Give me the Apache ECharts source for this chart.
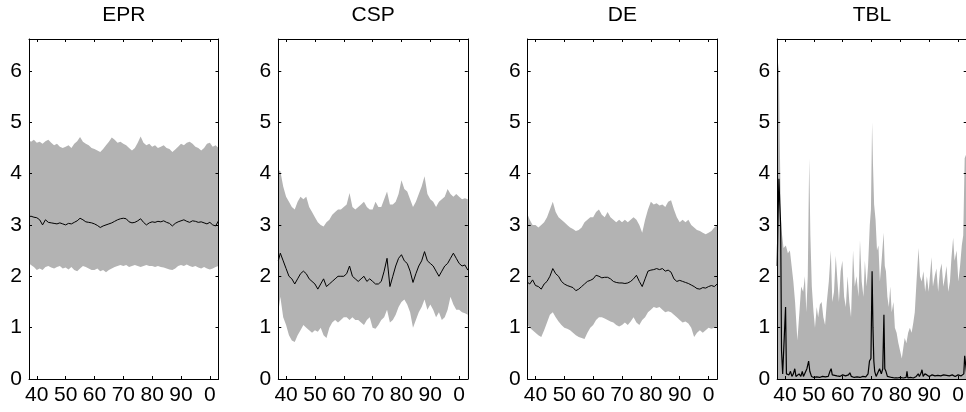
<!DOCTYPE html>
<html>
<head>
<meta charset="utf-8">
<script src="https://cdn.jsdelivr.net/npm/echarts@6/dist/echarts.min.js"></script>
<style>
  html, body { margin: 0; padding: 0; background: #fff; }
  #main { width: 966px; height: 412px; }
</style>
</head>
<body>
<div id="main"></div>
<script>
// sample dates (years) shared by EPR / CSP / DE
var years = [1937.3, 1938, 1939,
  1940, 1941, 1942, 1943, 1944, 1945, 1946, 1947, 1948, 1949,
  1950, 1951, 1952, 1953, 1954, 1955, 1956, 1957, 1958, 1959,
  1960, 1961, 1962, 1963, 1964, 1965, 1966, 1967, 1968, 1969,
  1970, 1971, 1972, 1973, 1974, 1975, 1976, 1977, 1978, 1979,
  1980, 1981, 1982, 1983, 1984, 1985, 1986, 1987, 1988, 1989,
  1990, 1991, 1992, 1993, 1994, 1995, 1996, 1997, 1998, 1999,
  2000, 2001, 2002, 2003]

var xTicks = [1940, 1950, 1960, 1970, 1980, 1990, 2000]
var yTicks = [0, 1, 2, 3, 4, 5, 6]

// EPR
var eprUpper = [4.65, 4.62, 4.66,
  4.60, 4.62, 4.58, 4.63, 4.66, 4.60, 4.55, 4.58, 4.52, 4.50,
  4.52, 4.55, 4.50, 4.58, 4.63, 4.71, 4.62, 4.58, 4.55, 4.50,
  4.48, 4.45, 4.42, 4.48, 4.55, 4.62, 4.70, 4.66, 4.60, 4.62,
  4.58, 4.55, 4.50, 4.45, 4.50, 4.60, 4.72, 4.60, 4.55, 4.58,
  4.52, 4.55, 4.50, 4.52, 4.55, 4.50, 4.48, 4.42, 4.47, 4.52,
  4.58, 4.55, 4.60, 4.62, 4.58, 4.52, 4.50, 4.45, 4.50, 4.58,
  4.60, 4.52, 4.55, 4.50]
var eprLower = [2.25, 2.22, 2.18,
  2.12, 2.15, 2.12, 2.18, 2.20, 2.17, 2.15, 2.18, 2.20, 2.15,
  2.17, 2.13, 2.18, 2.12, 2.10, 2.15, 2.20, 2.18, 2.15, 2.12,
  2.12, 2.15, 2.10, 2.12, 2.08, 2.12, 2.15, 2.18, 2.20, 2.22,
  2.20, 2.22, 2.18, 2.20, 2.22, 2.20, 2.18, 2.20, 2.22, 2.20,
  2.20, 2.18, 2.20, 2.18, 2.17, 2.15, 2.13, 2.12, 2.15, 2.20,
  2.22, 2.20, 2.23, 2.20, 2.18, 2.20, 2.17, 2.15, 2.18, 2.15,
  2.13, 2.15, 2.18, 2.20]
var eprMedian = [3.16, 3.17, 3.15,
  3.14, 3.10, 3.00, 3.10, 3.05, 3.04, 3.03, 3.02, 3.04, 3.02,
  3.00, 3.03, 3.02, 3.05, 3.08, 3.13, 3.10, 3.06, 3.05, 3.04,
  3.02, 2.99, 2.95, 2.98, 3.00, 3.02, 3.04, 3.07, 3.10, 3.12,
  3.13, 3.12, 3.06, 3.04, 3.05, 3.08, 3.12, 3.05, 3.00, 3.04,
  3.06, 3.05, 3.07, 3.06, 3.08, 3.05, 3.03, 2.98, 3.03, 3.06,
  3.08, 3.10, 3.07, 3.05, 3.08, 3.07, 3.05, 3.06, 3.04, 3.02,
  3.05, 3.00, 2.98, 3.08]

// CSP
var cspUpper = [4.07, 4.05, 3.75,
  3.55, 3.45, 3.35, 3.30, 3.45, 3.55, 3.50, 3.55, 3.35, 3.25,
  3.15, 3.05, 3.00, 2.97, 3.05, 3.10, 3.20, 3.25, 3.30, 3.30,
  3.35, 3.40, 3.62, 3.35, 3.30, 3.35, 3.40, 3.45, 3.35, 3.30,
  3.30, 3.45, 3.35, 3.35, 3.50, 3.65, 3.40, 3.40, 3.45, 3.60,
  3.87, 3.70, 3.65, 3.50, 3.35, 3.45, 3.60, 3.75, 3.95, 3.60,
  3.50, 3.45, 3.35, 3.45, 3.50, 3.55, 3.70, 3.60, 3.55, 3.60,
  3.55, 3.50, 3.52, 3.50]
var cspLower = [1.30, 1.60, 1.20,
  1.05, 0.85, 0.75, 0.72, 0.85, 0.95, 1.05, 1.00, 0.95, 0.90,
  0.95, 0.92, 1.00, 0.85, 0.80, 1.00, 1.10, 1.15, 1.10, 1.15,
  1.20, 1.20, 1.15, 1.20, 1.15, 1.15, 1.10, 1.05, 1.15, 1.20,
  1.00, 0.98, 1.05, 1.15, 1.20, 1.35, 1.10, 1.15, 1.25, 1.40,
  1.50, 1.55, 1.45, 1.30, 1.00, 1.15, 1.30, 1.40, 1.55, 1.35,
  1.45, 1.35, 1.20, 1.30, 1.15, 1.20, 1.35, 1.60, 1.45, 1.35,
  1.35, 1.30, 1.28, 1.25]
var cspMedian = [2.30, 2.45, 2.30,
  2.15, 2.00, 1.95, 1.85, 1.95, 2.05, 2.10, 2.05, 1.95, 1.90,
  1.85, 1.75, 1.85, 1.95, 1.80, 1.85, 1.90, 1.95, 2.00, 2.00,
  2.00, 2.05, 2.20, 2.00, 1.95, 1.90, 1.95, 2.00, 1.90, 1.95,
  1.90, 1.85, 1.85, 1.90, 2.10, 2.35, 1.80, 2.00, 2.20, 2.35,
  2.42, 2.30, 2.25, 2.10, 1.88, 2.05, 2.20, 2.30, 2.48, 2.30,
  2.25, 2.20, 2.10, 2.00, 2.10, 2.20, 2.25, 2.35, 2.45, 2.35,
  2.25, 2.20, 2.22, 2.12]

// DE
var deUpper = [3.20, 3.10, 3.00,
  3.00, 2.95, 3.00, 3.05, 3.15, 3.30, 3.45, 3.25, 3.15, 3.10,
  3.05, 3.00, 2.95, 2.92, 2.88, 2.90, 2.95, 3.05, 3.10, 3.15,
  3.15, 3.25, 3.30, 3.20, 3.15, 3.25, 3.15, 3.10, 3.05, 3.10,
  3.05, 3.10, 3.05, 3.10, 3.15, 3.10, 3.00, 2.85, 3.10, 3.30,
  3.45, 3.40, 3.42, 3.38, 3.40, 3.35, 3.45, 3.48, 3.30, 3.15,
  3.05, 3.10, 3.05, 3.10, 3.00, 2.95, 2.90, 2.88, 2.85, 2.82,
  2.85, 2.88, 2.95, 3.00]
var deLower = [1.05, 1.00, 0.95,
  0.90, 0.85, 0.82, 0.95, 1.10, 1.25, 1.30, 1.20, 1.12, 1.05,
  1.00, 0.98, 0.95, 0.90, 0.85, 0.82, 0.80, 0.78, 0.90, 1.00,
  1.05, 1.15, 1.20, 1.20, 1.18, 1.15, 1.12, 1.10, 1.05, 1.02,
  1.05, 1.10, 1.05, 1.12, 1.20, 1.10, 1.05, 1.15, 1.20, 1.30,
  1.35, 1.40, 1.38, 1.40, 1.35, 1.30, 1.32, 1.30, 1.25, 1.20,
  1.15, 1.10, 1.12, 1.08, 1.00, 0.82, 0.90, 0.95, 0.90, 0.95,
  1.00, 0.98, 1.00, 1.02]
var deMedian = [1.88, 1.85, 1.93,
  1.82, 1.80, 1.75, 1.85, 1.90, 2.00, 2.15, 2.05, 2.00, 1.90,
  1.85, 1.82, 1.80, 1.78, 1.72, 1.75, 1.80, 1.85, 1.90, 1.92,
  1.95, 2.02, 2.00, 1.97, 1.98, 1.98, 1.95, 1.90, 1.88, 1.87,
  1.87, 1.86, 1.87, 1.90, 1.95, 2.02, 1.90, 1.80, 1.95, 2.10,
  2.12, 2.13, 2.15, 2.13, 2.15, 2.10, 2.12, 2.08, 1.95, 1.90,
  1.92, 1.90, 1.88, 1.86, 1.83, 1.80, 1.76, 1.75, 1.78, 1.77,
  1.80, 1.82, 1.80, 1.85]

// TBL (spiky, own sample dates)
var tblUpperX = [1937.3, 1937.6, 1937.9, 1938.2, 1938.6, 1939.5, 1940.3, 1941.0, 1941.7, 1942.3,
  1942.9, 1943.5, 1944.3, 1945.0, 1945.6, 1946.3, 1946.9, 1947.4, 1947.9, 1948.4,
  1948.8, 1949.3, 1949.9, 1950.4, 1951.0, 1951.5, 1952.1, 1952.7, 1953.3, 1953.9,
  1954.5, 1955.2, 1955.9, 1956.4, 1957.0, 1957.6, 1958.2, 1958.7, 1959.3, 1959.9,
  1960.5, 1961.1, 1961.7, 1962.3, 1962.9, 1963.6, 1964.2, 1964.8, 1965.5, 1966.0,
  1966.6, 1967.2, 1967.7, 1968.3, 1968.8, 1969.4, 1969.8, 1970.2, 1970.5, 1970.9,
  1971.4, 1971.9, 1972.4, 1972.9, 1973.5, 1974.2, 1974.6, 1975.0, 1975.5, 1976.0,
  1976.5, 1977.0, 1977.6, 1978.1, 1978.7, 1979.3, 1979.9, 1980.5, 1981.0, 1981.5,
  1982.1, 1982.7, 1983.3, 1983.9, 1984.5, 1985.0, 1985.6, 1986.3, 1986.8, 1987.4,
  1988.0, 1988.6, 1989.2, 1989.8, 1990.4, 1990.8, 1991.3, 1991.9, 1992.5, 1993.1,
  1993.7, 1994.3, 1994.9, 1995.5, 1996.0, 1996.6, 1997.2, 1997.7, 1998.3, 1998.8,
  1999.5, 2000.1, 2000.7, 2001.3, 2001.8, 2002.3, 2003.0]
var tblUpper = [6.3, 6.15, 6.0, 4.6, 3.0, 2.55, 2.6, 2.45, 2.5, 2.2,
  1.9, 1.5, 0.75, 1.3, 1.8, 1.7, 2.0, 1.3, 2.0, 4.3,
  2.8, 1.8, 1.3, 1.0, 1.4, 1.2, 1.45, 1.5, 1.2, 1.05,
  1.5, 1.9, 2.5, 1.5, 1.7, 2.4, 1.9, 1.5, 2.1, 2.3,
  1.6, 1.4, 2.0, 1.5, 1.2, 2.5, 1.8, 2.0, 1.6, 2.7,
  1.9, 1.6, 2.3, 1.8, 2.2, 3.0, 3.3, 5.0, 4.2, 3.4,
  3.1, 2.5, 2.6, 1.9, 2.3, 2.85, 2.2, 2.1, 1.6, 1.4,
  1.8, 1.3, 1.5, 1.0, 0.9, 0.7, 0.55, 0.4, 0.6, 0.8,
  0.7, 0.9, 1.0, 0.9, 1.1, 1.3, 1.9, 2.55, 2.0, 1.9,
  2.1, 1.7, 2.0, 1.7, 2.1, 2.37, 1.8, 2.0, 2.15, 1.7,
  2.1, 2.25, 1.8, 2.0, 2.2, 1.7, 1.9, 2.35, 2.75, 2.3,
  2.5, 1.9, 2.2, 2.6, 2.8, 4.3, 4.4]

var tblMedianX = [1937.3, 1937.6, 1937.9, 1938.2, 1938.5, 1938.8, 1939.2, 1939.8, 1940.2, 1940.5,
  1940.9, 1941.4, 1941.9, 1942.4, 1942.9, 1943.4, 1943.8, 1944.4, 1944.9, 1945.5,
  1946.0, 1946.4, 1947.0, 1947.6, 1948.2, 1948.6, 1949.2, 1950, 1951, 1952,
  1953, 1954, 1955.0, 1955.6, 1956.0, 1956.4, 1957, 1958, 1959, 1960,
  1961, 1962.0, 1962.5, 1963.0, 1964, 1965, 1966, 1967, 1968, 1968.8,
  1969.3, 1969.8, 1970.2, 1970.5, 1970.8, 1971.1, 1971.6, 1972.2, 1972.8, 1973.4,
  1973.9, 1974.3, 1974.6, 1975.0, 1975.5, 1976, 1977, 1978, 1979, 1980,
  1981, 1982.0, 1982.3, 1982.6, 1983.5, 1984.5, 1985.5, 1986.2, 1986.6, 1987.2,
  1987.5, 1987.9, 1988.5, 1989.2, 1990, 1991, 1992, 1993, 1994, 1995,
  1996, 1997, 1998, 1999, 2000, 2001, 2002.0, 2002.3, 2002.6, 2003.0]
var tblMedian = [2.2, 3.2, 3.9, 3.4, 3.0, 0.55, 0.1, 0.08, 1.4, 0.1,
  0.12, 0.08, 0.15, 0.05, 0.1, 0.2, 0.05, 0.03, 0.1, 0.05,
  0.15, 0.05, 0.08, 0.2, 0.35, 0.15, 0.05, 0.03, 0.04, 0.03,
  0.05, 0.04, 0.05, 0.15, 0.2, 0.08, 0.05, 0.06, 0.05, 0.08,
  0.06, 0.08, 0.12, 0.05, 0.03, 0.04, 0.03, 0.05, 0.04, 0.1,
  0.35, 0.4, 2.1, 1.0, 0.35, 0.15, 0.05, 0.05, 0.2, 0.1,
  0.2, 1.25, 0.2, 0.15, 0.05, 0.02, 0.03, 0.02, 0.02, 0.03,
  0.02, 0.03, 0.15, 0.02, 0.03, 0.02, 0.05, 0.1, 0.05, 0.12,
  0.18, 0.05, 0.1, 0.08, 0.05, 0.08, 0.06, 0.07, 0.06, 0.08,
  0.07, 0.06, 0.08, 0.05, 0.08, 0.06, 0.1, 0.45, 0.45, 0.1]

var FONT = "'Liberation Sans', Arial, sans-serif"
var GRAY = '#b3b3b3'
var lefts = [29, 278.3, 527.7, 777.2]
var W = 189.5, TOP = 39, H = 340
var X_MIN = 1937.3, X_MAX = 2003.0, Y_MAX = 6.62

function zip(xs, ys) {
  return xs.map(function (x, i) { return [x, ys[i]] })
}

var panels = [
  { name: 'EPR', upper: eprUpper, lower: eprLower, median: eprMedian },
  { name: 'CSP', upper: cspUpper, lower: cspLower, median: cspMedian },
  { name: 'DE', upper: deUpper, lower: deLower, median: deMedian },
  { name: 'TBL' }
]

var grid = [], xAxis = [], yAxis = [], series = [], graphic = []

panels.forEach(function (p, i) {
  grid.push({ left: lefts[i], top: TOP, width: W, height: H, outerBoundsMode: 'none', containLabel: false })

  ;['bottom', 'top'].forEach(function (pos) {
    xAxis.push({
      gridIndex: i, type: 'value', position: pos, min: X_MIN, max: X_MAX, z: 4,
      axisLine: { show: true, onZero: false, lineStyle: { color: '#000', width: 1 } },
      axisTick: { show: true, inside: true, length: 3, customValues: xTicks, lineStyle: { color: '#000' } },
      axisLabel: {
        show: pos === 'bottom', customValues: xTicks, margin: 6,
        fontSize: 21, fontFamily: FONT, color: '#000',
        formatter: function (v) { return String(Math.round(v) % 100) }
      },
      splitLine: { show: false }
    })
  })
  ;['left', 'right'].forEach(function (pos) {
    yAxis.push({
      gridIndex: i, type: 'value', position: pos, min: 0, max: Y_MAX, z: 4,
      axisLine: { show: true, onZero: false, lineStyle: { color: '#000', width: 1 } },
      axisTick: { show: true, inside: true, length: 3, customValues: yTicks, lineStyle: { color: '#000' } },
      axisLabel: { show: pos === 'left', customValues: yTicks, margin: 7, fontSize: 21, fontFamily: FONT, color: '#000' },
      splitLine: { show: false }
    })
  })

  var ax = { xAxisIndex: 2 * i, yAxisIndex: 2 * i, symbol: 'none', silent: true }
  if (p.upper) {
    // grey band: upper filled grey, lower filled white over it
    series.push(Object.assign({ type: 'line', data: zip(years, p.upper), z: 1,
      lineStyle: { opacity: 0 }, areaStyle: { color: GRAY, opacity: 1 } }, ax))
    series.push(Object.assign({ type: 'line', data: zip(years, p.lower), z: 2,
      lineStyle: { opacity: 0 }, areaStyle: { color: '#fff', opacity: 1 } }, ax))
    series.push(Object.assign({ type: 'line', data: zip(years, p.median), z: 3,
      lineStyle: { color: '#000', width: 1 } }, ax))
  } else {
    series.push(Object.assign({ type: 'line', data: zip(tblUpperX, tblUpper), z: 1,
      lineStyle: { opacity: 0 }, areaStyle: { color: GRAY, opacity: 1 } }, ax))
    series.push(Object.assign({ type: 'line', data: zip(tblMedianX, tblMedian), z: 3,
      lineStyle: { color: '#000', width: 1.2 } }, ax))
  }

  graphic.push({
    type: 'text', x: lefts[i] + W / 2, y: 15,
    style: { text: p.name, font: '21px ' + FONT, fill: '#000',
      align: 'center', verticalAlign: 'middle', textAlign: 'center', textVerticalAlign: 'middle' }
  })
})

var myChart = echarts.init(document.getElementById('main'))
myChart.setOption({
  animation: false,
  backgroundColor: '#fff',
  grid: grid,
  xAxis: xAxis,
  yAxis: yAxis,
  series: series,
  graphic: graphic
})
</script>
</body>
</html>
